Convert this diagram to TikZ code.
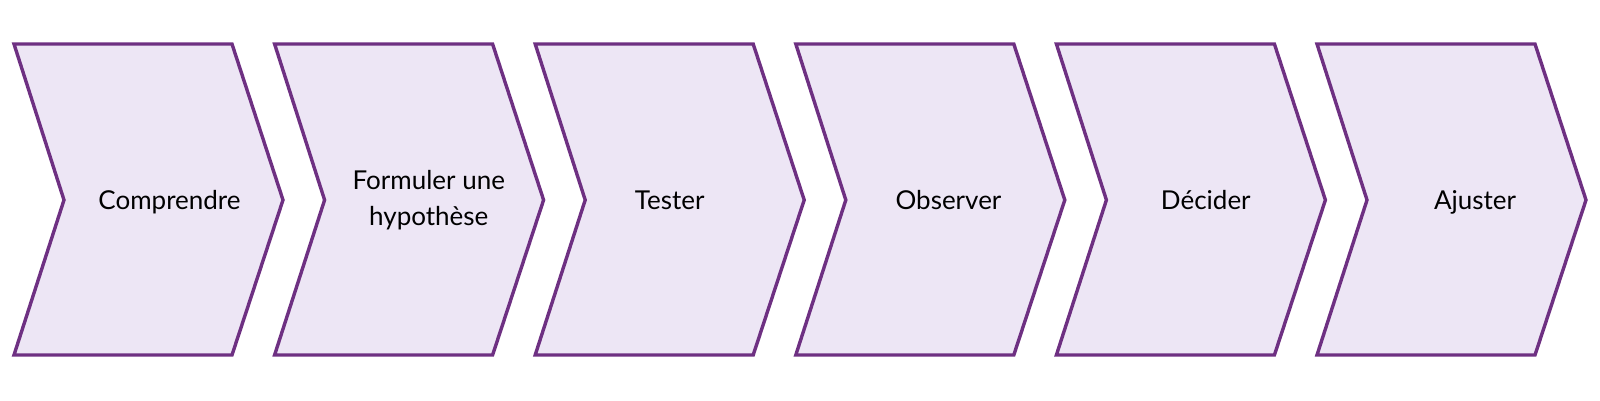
\documentclass[tikz,border=0pt]{standalone}
\usepackage{fontspec}
\setmainfont{Lato}
\definecolor{chevline}{RGB}{110,48,130}
\definecolor{chevfill}{RGB}{237,230,245}
\begin{document}
\begin{tikzpicture}[x=1pt,y=-1pt,
  chev/.style={draw=chevline,fill=chevfill,line width=3.4pt,line join=miter},
  lbl/.style={font=\fontsize{26}{36}\selectfont,align=center,text=black,anchor=base,inner sep=0pt}]
\useasboundingbox (0,0) rectangle (1600,400);
\foreach \i/\t/\dx/\by [count=\k from 0] in {a/Comprendre/155.5/209.5,b/Formuler une\\hypothèse/154.2/225,c/Tester/134.5/209.5,d/Observer/152.7/209.5,e/Décider/149.4/209.5,f/Ajuster/158/209.5}{
  \pgfmathsetmacro{\x}{14+260.6*\k}
  \draw[chev] (\x,44) -- (\x+218,44) -- (\x+269,200) -- (\x+218,355) -- (\x,355) -- (\x+50,200) -- cycle;
  \node[lbl] (\i) at (\x+\dx,\by) {\t};
}
\end{tikzpicture}
\end{document}
